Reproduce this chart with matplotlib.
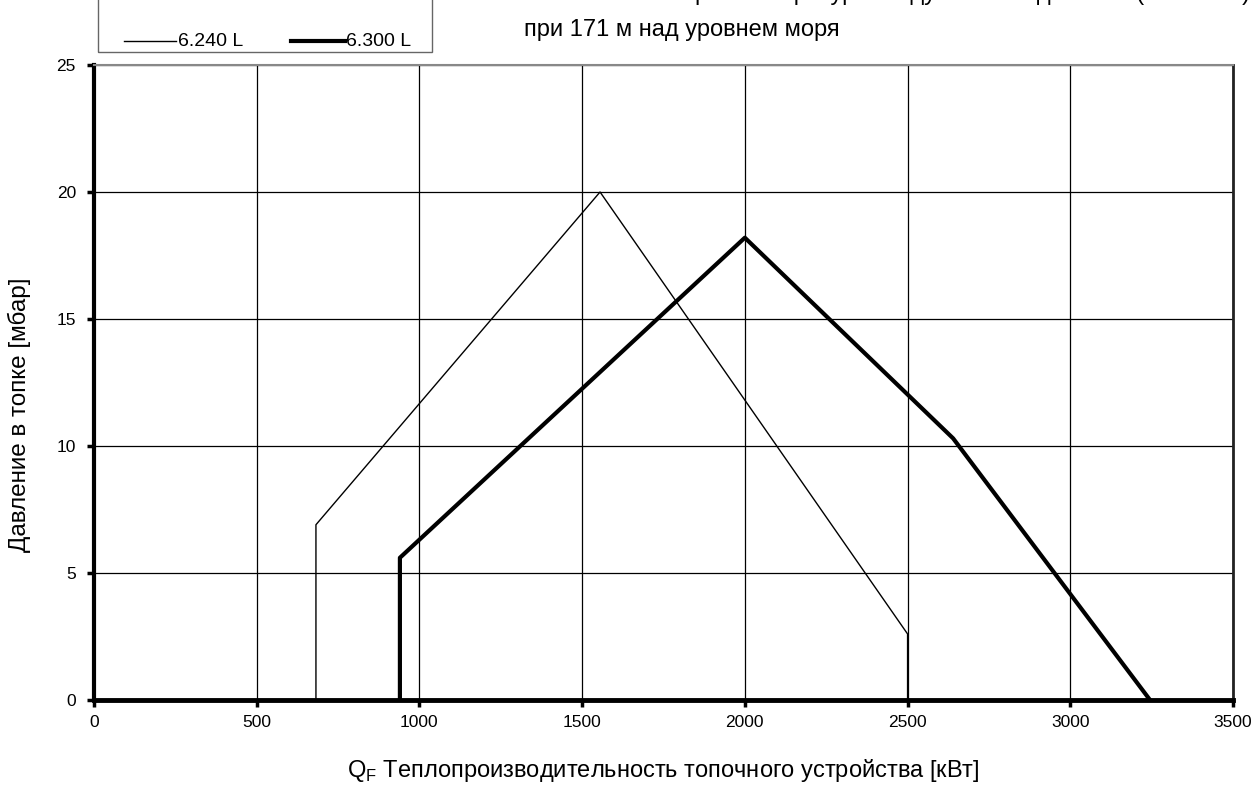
import matplotlib.pyplot as plt
from matplotlib.lines import Line2D
from matplotlib.patches import Rectangle

plt.rcParams['font.family'] = ['Liberation Sans', 'DejaVu Sans']

# 6.240 L (thin) and 6.300 L (thick) operating fields
x_6240 = [682, 682, 1555, 2500, 2500]
y_6240 = [0, 6.9, 20.0, 2.6, 0]
x_6300 = [940, 940, 2000, 2640, 3245]
y_6300 = [0, 5.6, 18.2, 10.3, 0]

x_ticks = [0, 500, 1000, 1500, 2000, 2500, 3000, 3500]
y_ticks = [0, 5, 10, 15, 20, 25]

W, H = 1259, 785
fig = plt.figure(figsize=(W / 100, H / 100), dpi=100)
ax = fig.add_axes([94 / W, 1 - 700 / H, (1233 - 94) / W, (700 - 65) / H])

ax.set_xlim(0, 3500)
ax.set_ylim(0, 25)
ax.set_xticks(x_ticks)
ax.set_yticks(y_ticks)
ax.grid(True, color='black', linewidth=0.9)
ax.set_axisbelow(True)

ax.plot(x_6240, y_6240, color='black', linewidth=1.0, zorder=3)
ax.plot(x_6300, y_6300, color='black', linewidth=3.0, zorder=4)

ax.spines['bottom'].set_linewidth(3.5)
ax.spines['left'].set_linewidth(3.0)
ax.spines['right'].set_linewidth(2.0)
ax.spines['right'].set_color('#222222')
ax.spines['top'].set_linewidth(1.5)
ax.spines['top'].set_color('#888888')
for s in ax.spines.values():
    s.set_zorder(5)

ax.tick_params(direction='out', length=5, width=2.5, labelsize=12.5)
ax.tick_params(axis='x', pad=6)
ax.tick_params(axis='y', pad=8)

ax.set_xlabel('Q$_\\mathregular{F}$ Теплопроизводительность топочного устройства [кВт]',
              fontsize=17, labelpad=19)
ax.set_ylabel('Давление в топке [мбар]', fontsize=17.5)
ax.yaxis.set_label_coords(-0.055, 0.449)

# title lines (upper one cut off by the image edge)
fig.text(524 / W, 1 - 30 / H, 'при 171 м над уровнем моря', fontsize=17,
         ha='left', va='center')
fig.text(524 / W, 1 + 7 / H, 'Рабочее поле при температуре воздуха на входе 20 °C (1013 гПа)',
         fontsize=17, ha='left', va='center')

# legend box, top edge outside the image
fig.add_artist(Rectangle((98 / W, 1 - 52 / H), (432 - 98) / W, 80 / H,
                         transform=fig.transFigure, fill=False,
                         edgecolor='#666666', linewidth=1.0))
fig.add_artist(Line2D([124 / W, 176 / W], [1 - 41 / H] * 2,
                      transform=fig.transFigure, color='black', linewidth=1.0))
fig.text(178 / W, 1 - 41 / H, '6.240 L', fontsize=14, ha='left', va='center')
fig.add_artist(Line2D([291 / W, 345 / W], [1 - 41 / H] * 2,
                      transform=fig.transFigure, color='black', linewidth=3.0))
fig.text(346 / W, 1 - 41 / H, '6.300 L', fontsize=14, ha='left', va='center')

fig.savefig('out.png', dpi=100)
